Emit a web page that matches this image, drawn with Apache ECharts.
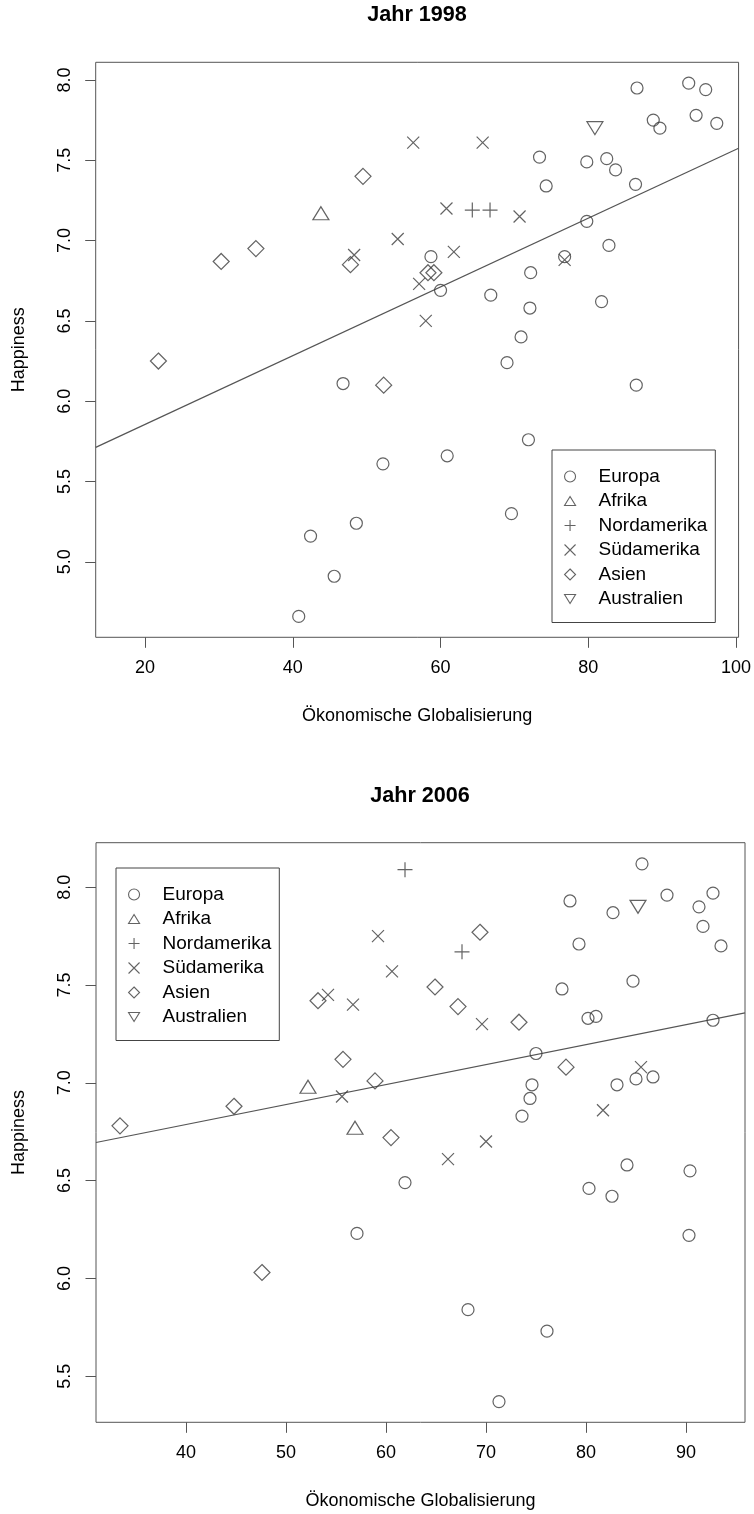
<!DOCTYPE html>
<html>
<head>
<meta charset="utf-8">
<title>Happiness und Globalisierung</title>
<script src="https://cdn.jsdelivr.net/npm/echarts@6.0.0/dist/echarts.min.js"></script>
<style>
  html, body { margin: 0; padding: 0; background: #fff; }
  #main { width: 754px; height: 1514px; }
</style>
</head>
<body>
<div id="main"></div>
<script>
// Kontinente (Legende)
var continents = ['Europa', 'Afrika', 'Nordamerika', 'Südamerika', 'Asien', 'Australien'];

// Jahr 1998: [Ökonomische Globalisierung, Happiness]
var europa1998 = [[58.7,6.90],[60.0,6.69],[73.4,7.52],[74.3,7.34],[79.8,7.49],[82.5,7.51],[83.7,7.44],[86.4,7.35],
  [79.8,7.12],[82.8,6.97],[76.8,6.90],[72.2,6.80],[66.8,6.66],[72.1,6.58],[81.8,6.62],[70.9,6.40],[86.6,7.95],
  [93.6,7.98],[95.9,7.94],[94.6,7.78],[97.4,7.73],[88.8,7.75],[89.7,7.70],[69.0,6.24],[86.5,6.10],[71.9,5.76],
  [60.9,5.66],[69.6,5.30],[46.8,6.11],[52.2,5.61],[48.6,5.24],[42.4,5.16],[45.6,4.91],[40.8,4.66]];
var afrika1998 = [[43.8,7.17]];
var nordamerika1998 = [[64.3,7.19],[66.7,7.19]];
var suedamerika1998 = [[56.3,7.61],[65.7,7.61],[54.2,7.01],[48.3,6.91],[57.1,6.73],[58.0,6.50],[61.8,6.93],
  [60.8,7.20],[70.7,7.15],[76.8,6.88]];
var asien1998 = [[30.3,6.87],[35.0,6.95],[49.5,7.40],[47.8,6.85],[58.3,6.80],[59.1,6.80],[21.8,6.25],[52.3,6.10]];
var australien1998 = [[80.9,7.70]];
var reg1998 = [5.428, 0.02139]; // Achsenabschnitt, Steigung

// Jahr 2006
var europa2006 = [[75.0,7.15],[74.6,6.99],[74.4,6.92],[73.6,6.83],[83.1,6.99],[85.0,7.02],[86.7,7.03],[92.7,7.32],
  [80.2,7.33],[81.0,7.34],[77.6,7.48],[84.7,7.52],[79.3,7.71],[78.4,7.93],[82.7,7.87],[85.6,8.12],[88.1,7.96],
  [92.7,7.97],[91.3,7.90],[91.7,7.80],[93.5,7.70],[84.1,6.58],[90.4,6.55],[80.3,6.46],[82.6,6.42],[90.3,6.22],
  [68.2,5.84],[76.1,5.73],[71.3,5.37],[61.9,6.49],[57.1,6.23]];
var afrika2006 = [[52.2,6.98],[56.9,6.77]];
var nordamerika2006 = [[61.9,8.09],[67.6,7.67]];
var suedamerika2006 = [[59.2,7.75],[60.6,7.57],[54.2,7.45],[56.7,7.40],[69.6,7.30],[55.6,6.93],[81.7,6.86],
  [85.5,7.08],[70.0,6.70],[66.2,6.61]];
var asien2006 = [[53.2,7.42],[55.7,7.12],[58.9,7.01],[44.8,6.88],[33.4,6.78],[60.5,6.72],[47.6,6.03],[64.9,7.49],
  [67.2,7.39],[69.4,7.77],[73.3,7.31],[78.0,7.08]];
var australien2006 = [[85.2,7.90]];
var reg2006 = [6.378, 0.01022];

// Achsenbereiche und Ticks
var xRange1998 = [13.31, 100.35], yRange1998 = [4.53, 8.11];
var xRange2006 = [31.0, 95.9], yRange2006 = [5.264, 8.228];
var xTicks1998 = [20, 40, 60, 80, 100], yTicks1998 = [5.0, 5.5, 6.0, 6.5, 7.0, 7.5, 8.0];
var xTicks2006 = [40, 50, 60, 70, 80, 90], yTicks2006 = [5.5, 6.0, 6.5, 7.0, 7.5, 8.0];

var ink = '#3c3c3c';
var font = 'Liberation Sans, Arial, Helvetica, sans-serif';

// R-Symbole pch 1..6
var symbols = [
  {symbol: 'circle', size: 12},
  {symbol: 'path://M8,0L16,13L0,13Z', size: [16, 13]},
  {symbol: 'path://M0,7.5L15,7.5M7.5,0L7.5,15', size: 15},
  {symbol: 'path://M0,0L12,12M12,0L0,12', size: 12},
  {symbol: 'diamond', size: 16},
  {symbol: 'path://M0,0L16,0L8,13Z', size: [16, 13]}
];

function scatterSeries(data, idx, grid) {
  return {
    name: continents[idx],
    type: 'scatter',
    xAxisIndex: grid,
    yAxisIndex: grid,
    data: data,
    symbol: symbols[idx].symbol,
    symbolSize: symbols[idx].size,
    itemStyle: { color: 'rgba(0,0,0,0)', borderColor: ink, borderWidth: 1.2 },
    emphasis: { disabled: true }
  };
}

function regLine(coef, range, grid) {
  return {
    name: 'lm',
    type: 'line',
    xAxisIndex: grid,
    yAxisIndex: grid,
    data: [[range[0], coef[0] + coef[1] * range[0]], [range[1], coef[0] + coef[1] * range[1]]],
    symbol: 'none',
    lineStyle: { color: '#555', width: 1.2 },
    silent: true,
    z: 1
  };
}

function xAxis(range, ticks, grid) {
  return {
    type: 'value', gridIndex: grid, min: range[0], max: range[1],
    name: 'Ökonomische Globalisierung', nameLocation: 'middle', nameGap: 70,
    nameTextStyle: { fontFamily: font, fontSize: 18, color: '#000' },
    axisLine: { show: false },
    axisTick: { show: true, length: 10.5, customValues: ticks, lineStyle: { color: '#555', width: 1 } },
    axisLabel: { customValues: ticks, margin: 22, fontFamily: font, fontSize: 18, color: '#000' },
    splitLine: { show: false }
  };
}

function yAxis(range, ticks, grid) {
  return {
    type: 'value', gridIndex: grid, min: range[0], max: range[1],
    name: 'Happiness', nameLocation: 'middle', nameGap: 68,
    nameTextStyle: { fontFamily: font, fontSize: 18, color: '#000' },
    axisLine: { show: false },
    axisTick: { show: true, length: 10.5, customValues: ticks, lineStyle: { color: '#555', width: 1 } },
    axisLabel: {
      customValues: ticks, rotate: 90, margin: 22, fontFamily: font, fontSize: 18, color: '#000',
      formatter: function (v) { return v.toFixed(1); }
    },
    splitLine: { show: false }
  };
}

function legend(left, top) {
  return {
    orient: 'vertical', left: left, top: top,
    data: continents,
    itemWidth: 11, itemHeight: 11, itemGap: 3.5,
    padding: [16, 8, 13, 12],
    borderColor: '#444', borderWidth: 1,
    itemStyle: { borderWidth: 1.1 },
    textStyle: { fontFamily: font, fontSize: 19, color: '#000', lineHeight: 21, padding: [0, 0, 0, 18] },
    selectedMode: false
  };
}

var chart = echarts.init(document.getElementById('main'));
var option = {
  backgroundColor: '#fff',
  animation: false,
  title: [
    { text: 'Jahr 1998', left: 417, top: 4, textAlign: 'center', padding: 0,
      textStyle: { fontFamily: font, fontSize: 21.6, fontWeight: 'bold', color: '#000' } },
    { text: 'Jahr 2006', left: 420, top: 785, textAlign: 'center', padding: 0,
      textStyle: { fontFamily: font, fontSize: 21.6, fontWeight: 'bold', color: '#000' } }
  ],
  grid: [
    { left: 95.7, top: 62.3, width: 643.6, height: 575, show: true, borderColor: '#555', borderWidth: 1 },
    { left: 96, top: 842.7, width: 649, height: 579.6, show: true, borderColor: '#555', borderWidth: 1 }
  ],
  xAxis: [xAxis(xRange1998, xTicks1998, 0), xAxis(xRange2006, xTicks2006, 1)],
  yAxis: [yAxis(yRange1998, yTicks1998, 0), yAxis(yRange2006, yTicks2006, 1)],
  legend: [legend(552, 450), legend(116, 868)],
  series: [
    regLine(reg1998, xRange1998, 0),
    scatterSeries(europa1998, 0, 0),
    scatterSeries(afrika1998, 1, 0),
    scatterSeries(nordamerika1998, 2, 0),
    scatterSeries(suedamerika1998, 3, 0),
    scatterSeries(asien1998, 4, 0),
    scatterSeries(australien1998, 5, 0),
    regLine(reg2006, xRange2006, 1),
    scatterSeries(europa2006, 0, 1),
    scatterSeries(afrika2006, 1, 1),
    scatterSeries(nordamerika2006, 2, 1),
    scatterSeries(suedamerika2006, 3, 1),
    scatterSeries(asien2006, 4, 1),
    scatterSeries(australien2006, 5, 1)
  ]
};
chart.setOption(option);
</script>
</body>
</html>
